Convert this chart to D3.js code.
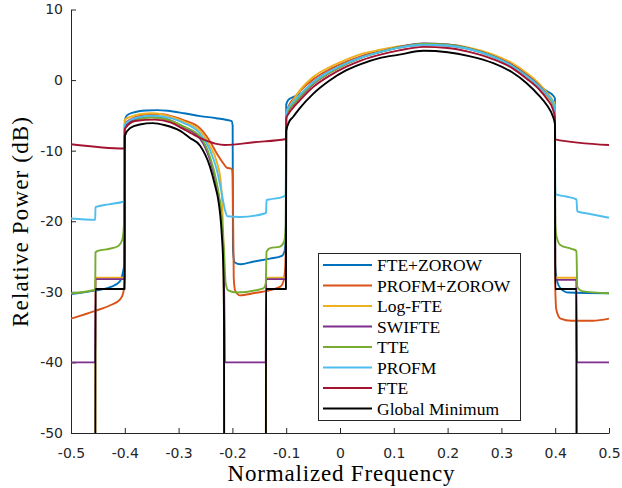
<!DOCTYPE html>
<html>
<head>
<meta charset="utf-8">
<script src="https://cdn.jsdelivr.net/npm/d3@7"></script>
<style>
  body { margin: 0; background: #fff; }
</style>
</head>
<body>
<script>
'use strict';

// legend order = plot order (black drawn last, on top)
const seriesNames = ['FTE+ZOROW', 'PROFM+ZOROW', 'Log-FTE', 'SWIFTE', 'TTE', 'PROFM', 'FTE', 'Global Minimum'];
const seriesColors = ['#0072BD', '#D95319', '#EDB120', '#7E2F8E', '#77AC30', '#4DBEEE', '#A2142F', '#000000'];

const xTicks = [-0.5, -0.4, -0.3, -0.2, -0.1, 0, 0.1, 0.2, 0.3, 0.4, 0.5];
const xTickLabels = ['-0.5', '-0.4', '-0.3', '-0.2', '-0.1', '0', '0.1', '0.2', '0.3', '0.4', '0.5'];
const yTicks = [-50, -40, -30, -20, -10, 0, 10];
const yTickLabels = ['-50', '-40', '-30', '-20', '-10', '0', '10'];

// [normalized frequency, relative power in dB]; -80 means off the bottom of the plot
const fteZorow = [[-0.5,-30.3],[-0.4535,-29.8],[-0.426,-29.3],[-0.41,-28.6],[-0.404,-27.4],[-0.401,-26],[-0.4005,-24],
  [-0.4,-5.7],[-0.396,-5.0],[-0.385,-4.6],[-0.36,-4.3],[-0.34,-4.25],[-0.32,-4.35],[-0.29,-4.7],[-0.26,-5.1],[-0.23,-5.4],
  [-0.21,-5.65],[-0.2015,-5.8],[-0.1995,-6.5],[-0.199,-24],[-0.196,-25.8],[-0.185,-26.1],[-0.16,-25.7],[-0.13,-25.3],
  [-0.108,-24.9],[-0.103,-24.2],[-0.101,-22],[-0.1005,-18],[-0.1,-3.5],[-0.096,-2.8],[-0.09,-2.5],[-0.08,-2.2],[-0.068,-1.7],
  [-0.05,-0.3],[-0.02,1.2],[0.012,2.4],[0.04,3.3],[0.075,4.0],[0.11,4.6],[0.155,5.0],[0.2,4.9],[0.24,4.4],[0.285,3.3],
  [0.32,2.0],[0.347,0.6],[0.37,-0.8],[0.385,-1.6],[0.395,-2.1],[0.3995,-2.6],[0.4,-26],[0.403,-28.3],[0.41,-29.5],
  [0.425,-30.1],[0.5,-30.2]];

const profmZorow = [[-0.5,-33.8],[-0.455,-32.7],[-0.427,-31.9],[-0.409,-31.1],[-0.403,-30.2],[-0.4005,-28.5],
  [-0.4,-6.2],[-0.39,-5.6],[-0.37,-5.0],[-0.35,-4.8],[-0.33,-4.85],[-0.31,-5.2],[-0.29,-5.7],[-0.26,-6.85],[-0.2416,-8.7],
  [-0.229,-10.4],[-0.2169,-11.8],[-0.2106,-12.4],[-0.2013,-12.6],[-0.1995,-13.5],[-0.1975,-28],[-0.195,-29.8],[-0.186,-30.5],
  [-0.161,-30.2],[-0.1115,-29.3],[-0.1054,-28.6],[-0.1022,-26.9],[-0.1005,-22],[-0.1,-4.8],[-0.095,-3.6],[-0.087,-2.7],
  [-0.075,-1.6],[-0.05,0.1],[-0.02,1.5],[0.012,2.6],[0.04,3.4],[0.075,4.1],[0.11,4.7],[0.155,5.05],[0.2,4.95],[0.24,4.5],
  [0.285,3.4],[0.32,2.2],[0.347,0.8],[0.37,-0.7],[0.385,-2.0],[0.395,-3.0],[0.3995,-4.0],[0.4,-29],[0.402,-32.5],
  [0.41,-33.8],[0.43,-34.1],[0.47,-34.1],[0.5,-33.8]];

const logFte = [[-0.5,-80],[-0.455,-80],[-0.4545,-28.0],[-0.4005,-28.0],[-0.4,-5.6],[-0.39,-5.2],[-0.37,-4.8],[-0.35,-4.7],
  [-0.33,-4.85],[-0.31,-5.3],[-0.29,-5.9],[-0.26,-7.2],[-0.2416,-9.35],[-0.229,-11.6],[-0.2215,-14.5],[-0.2185,-18.5],
  [-0.2165,-25],[-0.2155,-35],[-0.2151,-80],[-0.138,-80],[-0.1375,-28.0],[-0.1005,-28.0],[-0.1,-5.3],[-0.095,-4.0],
  [-0.087,-2.9],[-0.075,-1.5],[-0.05,0.45],[-0.02,1.8],[0.012,2.9],[0.04,3.7],[0.075,4.3],[0.11,4.8],[0.155,5.05],[0.2,5.0],
  [0.24,4.6],[0.285,3.6],[0.32,2.4],[0.347,1.0],[0.37,-0.5],[0.385,-1.8],[0.395,-2.8],[0.3995,-3.5],[0.4,-28.0],
  [0.4395,-28.0],[0.44,-80],[0.5,-80]];

const swifte = [[-0.5,-40],[-0.455,-40],[-0.4545,-28.2],[-0.4005,-28.2],[-0.4,-6.5],[-0.39,-5.9],[-0.37,-5.4],[-0.35,-5.25],
  [-0.33,-5.4],[-0.31,-5.9],[-0.29,-6.7],[-0.26,-8.3],[-0.2416,-11.3],[-0.229,-15],[-0.22,-20],[-0.216,-26],[-0.2145,-35],
  [-0.214,-40],[-0.138,-40],[-0.1375,-28.2],[-0.1005,-28.2],[-0.1,-5.0],[-0.095,-4.2],[-0.087,-3.5],[-0.075,-2.5],
  [-0.05,-0.6],[-0.02,1.0],[0.012,2.3],[0.04,3.2],[0.075,4.0],[0.11,4.7],[0.155,5.2],[0.2,5.05],[0.24,4.5],[0.285,3.4],
  [0.32,2.1],[0.347,0.7],[0.37,-0.8],[0.385,-2.1],[0.395,-3.2],[0.3995,-4.2],[0.4,-28.3],[0.4395,-28.3],[0.44,-40],[0.5,-40]];

const tte = [[-0.5,-30.2],[-0.455,-29.7],[-0.4545,-24.4],[-0.45,-24.2],[-0.428,-23.9],[-0.412,-23.5],[-0.405,-22.7],
  [-0.402,-21],[-0.4005,-17],[-0.4,-7.0],[-0.39,-6.1],[-0.37,-5.5],[-0.35,-5.3],[-0.33,-5.45],[-0.31,-5.9],[-0.29,-6.6],
  [-0.26,-8.0],[-0.2416,-10.9],[-0.229,-14.6],[-0.22,-19.4],[-0.2156,-24.1],[-0.2125,-28.8],[-0.2076,-29.8],[-0.192,-30.1],
  [-0.1426,-29.5],[-0.138,-28.8],[-0.1365,-24.3],[-0.13,-23.8],[-0.1115,-23.6],[-0.104,-22.9],[-0.101,-20.8],[-0.1005,-15],
  [-0.1,-5.0],[-0.095,-4.1],[-0.087,-3.4],[-0.075,-2.4],[-0.05,-0.5],[-0.02,1.0],[0.012,2.3],[0.04,3.2],[0.075,4.0],
  [0.11,4.65],[0.155,5.15],[0.2,5.0],[0.24,4.45],[0.285,3.35],[0.32,2.0],[0.347,0.6],[0.37,-0.9],[0.385,-2.2],[0.395,-3.3],
  [0.3995,-4.3],[0.4,-20],[0.402,-22],[0.41,-23.4],[0.43,-23.9],[0.4395,-24.2],[0.441,-29.3],[0.45,-29.9],[0.5,-30.2]];

const profm = [[-0.5,-19.6],[-0.455,-19.8],[-0.4545,-18.0],[-0.43,-17.6],[-0.402,-17.2],[-0.4005,-16],[-0.4,-6.3],
  [-0.39,-5.7],[-0.37,-5.2],[-0.35,-5.05],[-0.33,-5.15],[-0.31,-5.5],[-0.29,-6.1],[-0.26,-7.6],[-0.2416,-9.9],[-0.229,-12.7],
  [-0.2199,-16.0],[-0.2138,-18.4],[-0.2095,-19.3],[-0.186,-19.4],[-0.14,-18.9],[-0.1375,-18.8],[-0.1365,-17.0],[-0.13,-16.9],
  [-0.105,-16.5],[-0.101,-16.3],[-0.1005,-12],[-0.1,-4.6],[-0.095,-3.8],[-0.087,-3.1],[-0.075,-2.1],[-0.05,-0.3],[-0.02,1.2],
  [0.012,2.4],[0.04,3.2],[0.075,4.0],[0.11,4.6],[0.155,5.0],[0.2,4.9],[0.24,4.4],[0.285,3.3],[0.32,2.0],[0.347,0.55],
  [0.37,-0.9],[0.385,-2.1],[0.395,-3.0],[0.3995,-3.9],[0.4,-15],[0.401,-16.2],[0.42,-16.5],[0.4395,-16.9],[0.441,-18.6],
  [0.46,-18.9],[0.5,-19.5]];

const fte = [[-0.5,-9.1],[-0.4005,-9.7],[-0.4,-6.9],[-0.381,-5.8],[-0.344,-5.6],[-0.315,-6.0],[-0.294,-6.8],[-0.275,-7.6],
  [-0.257,-8.3],[-0.232,-9.0],[-0.214,-9.2],[-0.16,-8.8],[-0.1005,-8.35],[-0.1,-5.4],[-0.095,-4.7],[-0.087,-3.9],
  [-0.075,-2.9],[-0.05,-1.0],[-0.02,0.6],[0.012,1.9],[0.04,2.8],[0.075,3.6],[0.11,4.2],[0.155,4.7],[0.2,4.55],[0.24,4.0],
  [0.285,2.95],[0.32,1.7],[0.347,0.2],[0.37,-1.3],[0.385,-2.7],[0.395,-4.0],[0.3995,-5.3],[0.4,-8.4],[0.5,-9.2]];

const globalMin = [[-0.5,-80],[-0.455,-80],[-0.4545,-29.6],[-0.4005,-29.6],[-0.4,-7.9],[-0.39,-6.8],[-0.372,-6.3],
  [-0.348,-6.1],[-0.325,-6.4],[-0.297,-7.2],[-0.279,-8.2],[-0.26,-9.3],[-0.2416,-12.3],[-0.232,-15.0],[-0.2262,-17.0],
  [-0.2199,-21.7],[-0.2169,-26.5],[-0.2156,-34],[-0.215,-80],[-0.138,-80],[-0.1375,-29.6],[-0.1005,-29.6],[-0.1,-7.2],
  [-0.095,-6.0],[-0.087,-5.2],[-0.075,-4.0],[-0.05,-1.95],[-0.02,-0.1],[0.012,1.4],[0.04,2.3],[0.075,3.15],[0.11,3.6],
  [0.155,4.15],[0.2,3.95],[0.24,3.4],[0.285,2.4],[0.32,1.1],[0.347,-0.45],[0.37,-2.2],[0.385,-3.6],[0.395,-5.0],
  [0.3995,-6.2],[0.4,-29.6],[0.4395,-29.6],[0.44,-80],[0.5,-80]];

const seriesData = [fteZorow, profmZorow, logFte, swifte, tte, profm, fte, globalMin];

(function() {

  let width = 622;
  let height = 488;
  let serifFont = '"Liberation Serif", "Times New Roman", serif';
  let svgContainer = d3.select('body')
    .append('svg')
    .attr('width', width)
    .attr('height', height);

  let xScale = d3.scaleLinear().domain([-0.5, 0.5]).range([71, 609]);
  let yScale = d3.scaleLinear().domain([-50, 10]).range([433, 9.5]);

  drawAxes();
  plotData();
  makeLegend();
  makeLabels();

  function drawAxes() {
    let xAxis = d3.axisBottom(xScale)
      .tickValues(xTicks)
      .tickFormat((d, i) => xTickLabels[i])
      .tickSizeInner(-5)
      .tickSizeOuter(0)
      .tickPadding(15);
    let gx = svgContainer.append('g')
      .attr('transform', 'translate(0,433)')
      .call(xAxis);

    let yAxis = d3.axisLeft(yScale)
      .tickValues(yTicks)
      .tickFormat((d, i) => yTickLabels[i])
      .tickSizeInner(-5)
      .tickSizeOuter(0)
      .tickPadding(8);
    let gy = svgContainer.append('g')
      .attr('transform', 'translate(71,0)')
      .call(yAxis);

    [gx, gy].forEach(g => {
      g.select('.domain').attr('stroke', '#262626');
      g.selectAll('.tick line').attr('stroke', '#262626');
      g.selectAll('.tick text')
        .attr('fill', '#262626')
        .style('font-family', '"DejaVu Sans", sans-serif')
        .style('font-size', '14px');
    });
  }

  function plotData() {
    svgContainer.append('clipPath')
      .attr('id', 'plotClip')
      .append('rect')
      .attr('x', 71)
      .attr('y', 0)
      .attr('width', 540)
      .attr('height', 433);

    let line = d3.line()
      .x(d => xScale(d[0]))
      .y(d => yScale(d[1]))
      .curve(d3.curveMonotoneX);

    svgContainer.append('g')
      .attr('clip-path', 'url(#plotClip)')
      .selectAll('path')
      .data(seriesData)
      .enter()
      .append('path')
      .attr('d', d => line(d))
      .attr('fill', 'none')
      .attr('stroke', (d, i) => seriesColors[i])
      .attr('stroke-width', 1.9)
      .attr('stroke-linejoin', 'round');
  }

  function makeLegend() {
    let legend = svgContainer.append('g');
    legend.append('rect')
      .attr('x', 318.5)
      .attr('y', 253.5)
      .attr('width', 202)
      .attr('height', 167)
      .attr('fill', 'white')
      .attr('stroke', '#262626')
      .attr('stroke-width', 1);

    let rows = legend.selectAll('.row')
      .data(seriesNames)
      .enter()
      .append('g')
      .attr('transform', (d, i) => 'translate(0,' + (265 + i * 20.5) + ')');
    rows.append('line')
      .attr('x1', 323)
      .attr('x2', 372)
      .attr('stroke', (d, i) => seriesColors[i])
      .attr('stroke-width', 1.9);
    rows.append('text')
      .attr('x', 377)
      .attr('dy', '0.35em')
      .style('font-family', serifFont)
      .style('font-size', '17.5px')
      .text(d => d);
  }

  // axis titles
  function makeLabels() {
    svgContainer.append('text')
      .attr('x', 341)
      .attr('y', 481)
      .attr('text-anchor', 'middle')
      .attr('textLength', 227)
      .attr('lengthAdjust', 'spacing')
      .style('font-family', serifFont)
      .style('font-size', '23px')
      .text('Normalized Frequency');

    svgContainer.append('text')
      .attr('transform', 'translate(28,222)rotate(-90)')
      .attr('text-anchor', 'middle')
      .attr('textLength', 210)
      .attr('lengthAdjust', 'spacing')
      .style('font-family', serifFont)
      .style('font-size', '23px')
      .text('Relative Power (dB)');
  }

})();
</script>
</body>
</html>
